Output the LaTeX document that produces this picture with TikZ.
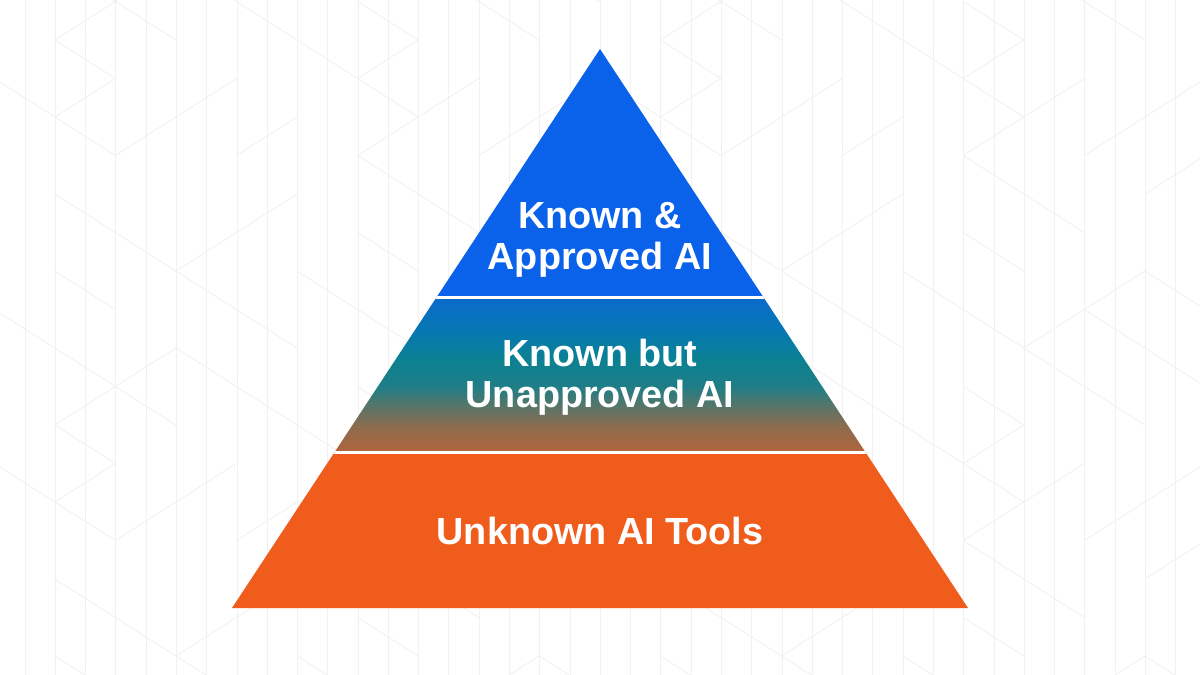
\documentclass[tikz,border=0pt]{standalone}
\usepackage{fontspec}
\setmainfont{Liberation Sans}
\usetikzlibrary{positioning}
\definecolor{Canvas}{HTML}{FFFFFF}
\definecolor{GridLine}{HTML}{F1F1F1}
\definecolor{TopBlue}{HTML}{0A62EA}
\definecolor{BaseOrange}{HTML}{EF5C1C}
\definecolor{MidBlue}{HTML}{0A6ACB}
\definecolor{MidSky}{HTML}{0677B5}
\definecolor{MidTeal}{HTML}{0B8192}
\definecolor{MidSea}{HTML}{1E7E88}
\definecolor{MidGrey}{HTML}{577568}
\definecolor{MidClay}{HTML}{8D6B4E}
\definecolor{MidRust}{HTML}{B2653C}
\pgfdeclareverticalshading{midband}{100bp}{color(0bp)=(MidRust); color(25bp)=(MidRust);
  color(33.4bp)=(MidClay); color(40bp)=(MidGrey); color(46.5bp)=(MidSea);
  color(55bp)=(MidTeal); color(65bp)=(MidSky); color(75bp)=(MidBlue); color(100bp)=(MidBlue)}
\tikzset{
  gridline/.style={draw=GridLine, line width=0.5pt},
  gap/.style={draw=Canvas, line width=2.2pt},
  tierlabel/.style={text=white, align=center, inner sep=0pt,
    font=\fontsize{21.5}{23.4}\selectfont\bfseries}
}

\begin{document}
\begin{tikzpicture}[x=0.02cm,y=-0.02cm]
    \useasboundingbox (0,0) rectangle (1200,675);
    \fill[Canvas] (0,0) rectangle (1200,675);

    % faint background lattice
    \foreach \k in {0,...,39}
      \draw[gridline] ({25+30.28*\k},0) -- ({25+30.28*\k},675);
    \foreach \i in {-1,...,19}{
      \foreach \j in {-1,...,9}{
        \pgfmathtruncatemacro{\down}{mod(abs(7*\i*\i+5*\j*\j+3*\i*\j+2*\i),5)}
        \pgfmathtruncatemacro{\up}{mod(abs(3*\i*\i+11*\j*\j+\i*\j+4*\j+1),5)}
        \pgfmathsetmacro{\px}{54.8+60.56*\i}
        \pgfmathsetmacro{\py}{40+77*\j+38.5*mod(abs(\i),2)}
        \ifnum\down<2
          \draw[gridline] (\px,\py) -- ++(60.56,38.5);
        \fi
        \ifnum\up<2
          \draw[gridline] (\px,\py) -- ++(60.56,-38.5);
        \fi
      }
    }

    % pyramid tiers
    \coordinate (apex) at (600,49);
    \coordinate (baseL) at (232,608);
    \coordinate (baseR) at (968,608);
    \begin{scope}
      \clip (apex) -- (baseR) -- (baseL) -- cycle;
      \fill[TopBlue] (200,40) rectangle (1000,298);
      \shade[shading=midband] (200,297.5) rectangle (1000,452.5);
      \fill[BaseOrange] (200,452) rectangle (1000,615);
      \draw[gap] (200,297.5) -- (1000,297.5);
      \draw[gap] (200,452.5) -- (1000,452.5);
    \end{scope}

    \node[tierlabel] (approved) at (600,239.5) {Known \&\\Approved AI};
    \node[tierlabel] (unapproved) at (600,377) {Known but\\Unapproved AI};
    \node[tierlabel] (unknown) at (600,531) {Unknown AI Tools};
\end{tikzpicture}
\end{document}
